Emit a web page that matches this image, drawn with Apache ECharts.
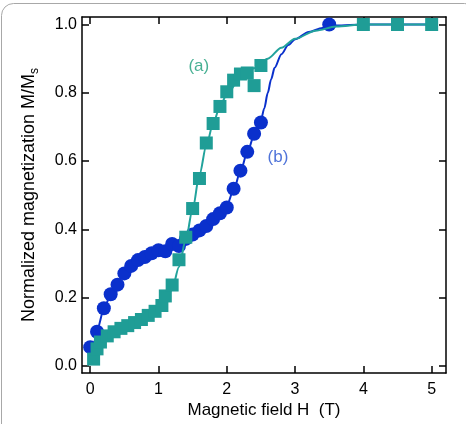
<!DOCTYPE html>
<html>
<head>
<meta charset="utf-8">
<script src="https://cdn.jsdelivr.net/npm/echarts@6/dist/echarts.min.js"></script>
<style>
  html, body { margin: 0; padding: 0; background: #fff; }
  #main { width: 466px; height: 424px; }
</style>
</head>
<body>
<div id="main"></div>
<script>
  // tick positions
  const xTicks = [0, 1, 2, 3, 4, 5];
  const yTicks = [0, 0.2, 0.4, 0.6, 0.8, 1.0];

  // (a) squares
  const aField = [0.05, 0.1, 0.15, 0.25, 0.35, 0.45, 0.55, 0.65, 0.75, 0.85, 0.95, 1.05, 1.1, 1.2, 1.3, 1.4, 1.5, 1.6, 1.7, 1.8, 1.9, 2.0, 2.1, 2.2, 2.3, 2.4, 2.5, 4.0, 4.5, 5.0];
  const aMag   = [0.02, 0.05, 0.07, 0.088, 0.1, 0.11, 0.118, 0.127, 0.136, 0.148, 0.16, 0.177, 0.205, 0.237, 0.311, 0.377, 0.461, 0.549, 0.653, 0.71, 0.76, 0.803, 0.837, 0.855, 0.858, 0.821, 0.88, 1.0, 1.0, 1.0];

  // (b) circles
  const bField = [0.0, 0.1, 0.2, 0.3, 0.4, 0.5, 0.6, 0.7, 0.8, 0.9, 1.0, 1.1, 1.2, 1.3, 1.4, 1.5, 1.6, 1.7, 1.8, 1.9, 2.0, 2.1, 2.2, 2.3, 2.4, 2.5, 3.5];
  const bMag   = [0.055, 0.1, 0.169, 0.21, 0.238, 0.271, 0.293, 0.31, 0.319, 0.33, 0.339, 0.336, 0.357, 0.351, 0.372, 0.385, 0.397, 0.41, 0.43, 0.447, 0.464, 0.519, 0.572, 0.627, 0.68, 0.713, 1.0];

  // fitted curves
  const aFitField = [0, 0.05, 0.1, 0.2, 0.3, 0.5, 0.7, 0.9, 1.0, 1.1, 1.2, 1.3, 1.4, 1.5, 1.6, 1.7, 1.8, 1.9, 2.0, 2.2, 2.4, 2.6, 2.8, 3.0, 3.3, 3.6, 4.0, 5.0];
  const aFitMag   = [0.005, 0.035, 0.052, 0.07, 0.083, 0.1, 0.12, 0.145, 0.16, 0.185, 0.225, 0.29, 0.37, 0.46, 0.56, 0.645, 0.71, 0.76, 0.795, 0.845, 0.872, 0.9, 0.932, 0.958, 0.982, 0.994, 1.0, 1.0];
  const bFitField = [0, 0.05, 0.1, 0.2, 0.3, 0.4, 0.5, 0.6, 0.7, 0.8, 0.9, 1.0, 1.2, 1.4, 1.6, 1.8, 2.0, 2.1, 2.2, 2.3, 2.4, 2.5, 2.55, 2.6, 2.65, 2.7, 2.8, 2.9, 3.0, 3.2, 3.4, 3.6, 4.0, 5.0];
  const bFitMag   = [0.01, 0.06, 0.105, 0.165, 0.21, 0.243, 0.27, 0.29, 0.307, 0.32, 0.33, 0.338, 0.35, 0.368, 0.395, 0.428, 0.47, 0.515, 0.57, 0.625, 0.675, 0.72, 0.755, 0.80, 0.84, 0.873, 0.913, 0.94, 0.957, 0.978, 0.99, 0.997, 1.0, 1.0];

  const FONT = "'Liberation Sans', Arial, Helvetica, sans-serif";
  const TEAL = '#1f9d96';
  const TEAL_LINE = '#22a39c';
  const BLUE = '#0a30cc';

  const zip = (xs, ys) => xs.map((x, i) => [x, ys[i]]);

  const frameLine = { show: true, onZero: false, lineStyle: { color: '#000', width: 1.5 } };
  const tick = (vals) => ({ show: true, inside: true, length: 7, customValues: vals, lineStyle: { color: '#000', width: 1.5 } });

  const chart = echarts.init(document.getElementById('main'));
  chart.setOption({
    animation: false,
    textStyle: { fontFamily: FONT },
    grid: { left: 82, right: 20, top: 17, bottom: 43, containLabel: false },
    xAxis: [
      {
        type: 'value', position: 'bottom', min: -0.12, max: 5.21,
        axisLine: frameLine, axisTick: tick(xTicks), splitLine: { show: false },
        axisLabel: { customValues: xTicks, margin: 8, color: '#000', fontSize: 16, fontFamily: FONT },
        name: 'Magnetic field H  (T)', nameLocation: 'middle', nameGap: 26,
        nameTextStyle: { color: '#000', fontSize: 17, fontFamily: FONT }
      },
      {
        type: 'value', position: 'top', min: -0.12, max: 5.21,
        axisLine: frameLine, axisTick: tick(xTicks), splitLine: { show: false },
        axisLabel: { show: false }
      }
    ],
    yAxis: [
      {
        type: 'value', position: 'left', min: -0.021, max: 1.022,
        axisLine: frameLine, axisTick: tick(yTicks), splitLine: { show: false },
        axisLabel: { customValues: yTicks, margin: 5, color: '#000', fontSize: 16, fontFamily: FONT,
                     formatter: v => v.toFixed(1) },
        name: 'Normalized magnetization M/M{sub|s}', nameLocation: 'middle', nameGap: 44,
        nameTextStyle: {
          color: '#000', fontSize: 18, fontFamily: FONT,
          rich: { sub: { fontSize: 12, fontFamily: FONT, color: '#000', verticalAlign: 'bottom', padding: [0, 0, -3, 0] } }
        }
      },
      {
        type: 'value', position: 'right', min: -0.021, max: 1.022,
        axisLine: frameLine, axisTick: tick(yTicks), splitLine: { show: false },
        axisLabel: { show: false }
      }
    ],
    graphic: [
      { type: 'rect', silent: true, z: -10,
        shape: { x: 1.5, y: 3.5, width: 475, height: 450, r: 12 },
        style: { fill: 'none', stroke: '#a8a8a8', lineWidth: 1 } }
    ],
    series: [
      {
        type: 'line', data: zip(bFitField, bFitMag), showSymbol: false, smooth: 0.3, smoothMonotone: 'x',
        lineStyle: { color: BLUE, width: 2 }, z: 2
      },
      {
        type: 'scatter', data: zip(bField, bMag), symbol: 'circle', symbolSize: 14,
        itemStyle: { color: BLUE, opacity: 1 }, z: 3
      },
      {
        type: 'line', data: zip(aFitField, aFitMag), showSymbol: false, smooth: 0.3, smoothMonotone: 'x',
        lineStyle: { color: TEAL_LINE, width: 2 }, z: 4
      },
      {
        type: 'scatter', data: zip(aField, aMag), symbol: 'rect', symbolSize: 13,
        itemStyle: { color: TEAL, opacity: 1 }, z: 5
      },
      {
        type: 'scatter', symbolSize: 0, silent: true, z: 6,
        data: [
          { value: [1.59, 0.877], label: { show: true, position: 'inside', formatter: '(a)', color: '#1a9c78', fontSize: 17, fontFamily: FONT } },
          { value: [2.75, 0.61], label: { show: true, position: 'inside', formatter: '(b)', color: '#2350d0', fontSize: 17, fontFamily: FONT } }
        ]
      }
    ]
  });
</script>
</body>
</html>
